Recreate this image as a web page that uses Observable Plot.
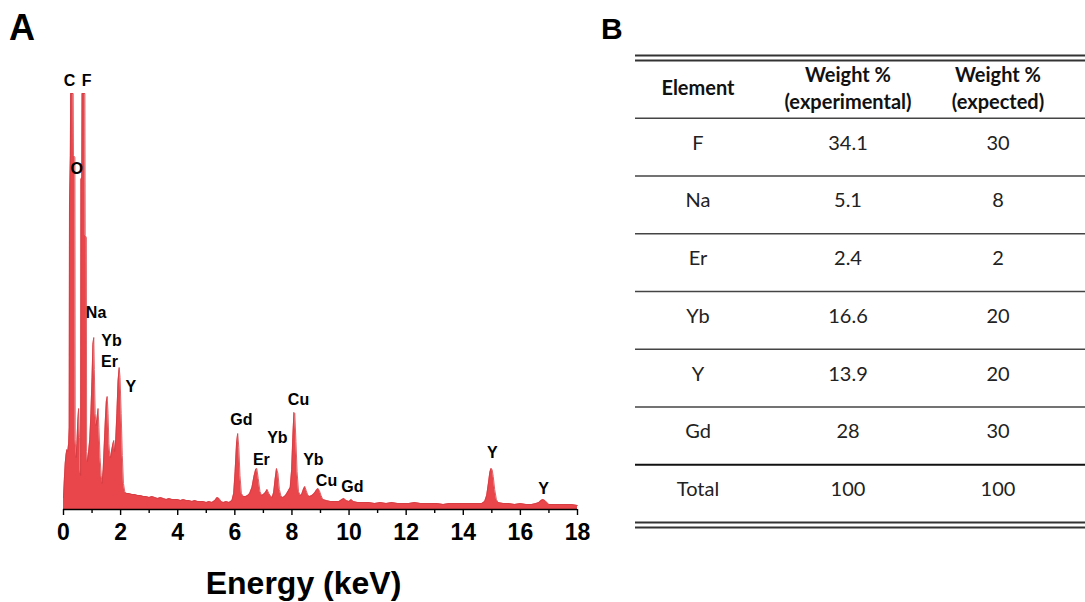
<!DOCTYPE html>
<html>
<head>
<meta charset="utf-8">
<script src="https://cdn.jsdelivr.net/npm/d3@7"></script>
<script src="https://cdn.jsdelivr.net/npm/@observablehq/plot@0.6"></script>
<style>
  html, body { margin: 0; padding: 0; background: #fff; }
  #figure { position: relative; width: 1085px; height: 602px; overflow: hidden; }
  #figure svg { overflow: visible; }
  .panel { position: absolute; }
  .letter { position: absolute; font-family: "Liberation Sans", Arial, sans-serif; font-weight: bold; line-height: 1; color: #000; }
</style>
</head>
<body>
<div id="figure">
  <div class="panel" id="spectrum" style="left:0;top:0"></div>
  <div class="panel" id="table" style="left:600px;top:0"></div>
  <div class="letter" style="left:9px;top:10px;font-size:36px">A</div>
  <div class="letter" style="left:601px;top:14px;font-size:30px">B</div>
</div>
<script>
// EDS spectrum: energy (keV) and detector counts (a.u.)
const energyKeV = [
  0.00, 0.03, 0.06, 0.09, 0.12, 0.15, 0.18, 0.20, 0.21, 0.24, 0.25, 0.34, 0.35, 0.40, 0.41, 0.44,
  0.47, 0.50, 0.53, 0.56, 0.58, 0.60, 0.61, 0.64, 0.65, 0.75, 0.76, 0.80, 0.81, 0.84, 0.88, 0.92,
  0.96, 1.00, 1.03, 1.06, 1.08, 1.11, 1.14, 1.17, 1.21, 1.24, 1.28, 1.32, 1.35, 1.39, 1.43, 1.47,
  1.50, 1.53, 1.56, 1.59, 1.62, 1.65, 1.68, 1.72, 1.76, 1.79, 1.83, 1.87, 1.91, 1.95, 1.98, 2.02,
  2.06, 2.10, 2.15, 2.22, 2.30, 2.40, 2.50, 2.60, 2.70, 2.80, 2.90, 3.00, 3.10, 3.20, 3.30, 3.40,
  3.50, 3.60, 3.70, 3.80, 3.90, 4.00, 4.10, 4.20, 4.30, 4.40, 4.50, 4.60, 4.70, 4.80, 4.90, 5.00,
  5.10, 5.20, 5.30, 5.38, 5.45, 5.52, 5.60, 5.70, 5.80, 5.90, 5.96, 6.01, 6.06, 6.10, 6.14, 6.18,
  6.23, 6.30, 6.38, 6.45, 6.52, 6.60, 6.67, 6.73, 6.77, 6.82, 6.88, 6.94, 7.00, 7.07, 7.13, 7.19,
  7.26, 7.31, 7.36, 7.41, 7.46, 7.51, 7.56, 7.62, 7.68, 7.74, 7.80, 7.88, 7.94, 7.99, 8.03, 8.07,
  8.10, 8.14, 8.18, 8.23, 8.29, 8.34, 8.40, 8.45, 8.50, 8.56, 8.62, 8.70, 8.78, 8.85, 8.91, 8.96,
  9.02, 9.08, 9.20, 9.35, 9.50, 9.65, 9.75, 9.82, 9.90, 10.00, 10.08, 10.15, 10.30, 10.50, 10.70, 10.90,
  11.10, 11.30, 11.50, 11.70, 11.90, 12.10, 12.30, 12.50, 12.70, 12.90, 13.10, 13.30, 13.50, 13.70, 13.90, 14.10,
  14.30, 14.50, 14.65, 14.75, 14.82, 14.88, 14.93, 14.97, 15.01, 15.05, 15.10, 15.16, 15.22, 15.40, 15.60, 15.80,
  16.00, 16.20, 16.40, 16.55, 16.65, 16.72, 16.79, 16.86, 16.93, 17.00, 17.20, 17.40, 17.60, 17.80, 18.00
];
const counts = [
  12, 30, 46, 55, 60, 58, 66, 82, 305, 354, 416, 416, 354, 352, 70, 52,
  66, 88, 101, 72, 40, 34, 330, 332, 416, 416, 274, 272, 58, 48, 58, 70,
  96, 132, 165, 172, 140, 96, 84, 90, 101, 82, 52, 34, 26, 40, 66, 92,
  108, 113, 96, 66, 54, 52, 58, 64, 69, 58, 70, 96, 128, 142, 132, 96,
  54, 26, 17, 16, 16, 15, 15, 14, 14, 13, 13, 12, 13, 12, 11, 12,
  11, 10, 11, 10, 10, 10, 9, 10, 9, 9, 8, 9, 8, 8, 8, 7,
  8, 7, 9, 12, 11, 8, 7, 8, 7, 9, 16, 38, 66, 76, 62, 34,
  16, 13, 13, 14, 16, 22, 33, 40, 41, 31, 18, 14, 15, 17, 20, 16,
  13, 12, 17, 30, 41, 36, 20, 13, 12, 13, 15, 19, 22, 40, 72, 97,
  96, 68, 38, 18, 14, 15, 20, 23, 19, 14, 13, 14, 16, 19, 21, 19,
  14, 10, 9, 8, 8, 8, 10, 11, 9, 8, 10, 8, 7, 7, 7, 6,
  7, 6, 7, 6, 6, 6, 7, 6, 6, 6, 6, 5, 6, 6, 6, 6,
  6, 6, 6, 8, 14, 26, 37, 41, 40, 33, 20, 10, 7, 6, 6, 5,
  6, 5, 5, 6, 7, 9, 10, 9, 7, 5, 5, 5, 5, 5, 4
];

// Element labels over the emission lines (label position in keV / counts)
const peakLabels  = ["C", "F", "O", "Na", "Yb", "Er", "Y", "Gd", "Er", "Yb", "Cu", "Yb", "Cu", "Gd", "Y", "Y"];
const peakLabelE  = [0.21, 0.81, 0.46, 1.14, 1.68, 1.61, 2.36, 6.23, 6.93, 7.49, 8.23, 8.75, 9.21, 10.12, 15.02, 16.81];
const peakLabelY  = [429, 429, 341, 197, 169, 148, 123, 90, 50, 72, 110, 50, 29, 23, 57, 21];

const majorTicks = [0, 2, 4, 6, 8, 10, 12, 14, 16, 18];
const minorTicks = [1, 3, 5, 7, 9, 11, 13, 15, 17];

// Composition table
const columnHeads   = ["Element", "Weight %\n(experimental)", "Weight %\n(expected)"];
const elements      = ["F", "Na", "Er", "Yb", "Y", "Gd", "Total"];
const experimental  = ["34.1", "5.1", "2.4", "16.6", "13.9", "28", "100"];
const expected      = ["30", "8", "2", "20", "20", "30", "100"];

const spectrum = energyKeV.map((e, i) => ({energy: e, counts: counts[i]}));
const labels = peakLabels.map((t, i) => ({label: t, energy: peakLabelE[i], counts: peakLabelY[i]}));

const red = "#e8464b";

const chartA = Plot.plot({
  width: 600,
  height: 602,
  marginLeft: 63,
  marginRight: 23,
  marginTop: 89,
  marginBottom: 93,
  style: {fontFamily: "'Liberation Sans', Arial, sans-serif", color: "#000", background: "transparent"},
  x: {domain: [0, 18]},
  y: {domain: [0, 420], axis: null},
  marks: [
    Plot.areaY(spectrum, {x: "energy", y: "counts", fill: red}),
    Plot.lineY(spectrum, {x: "energy", y: "counts", stroke: "#d23c42", strokeWidth: 0.8}),
    Plot.ruleY([0], {stroke: "#000", strokeWidth: 1.6}),
    Plot.axisX(minorTicks, {tickSize: 4, tickFormat: () => "", strokeWidth: 1.4, label: null}),
    Plot.axisX(majorTicks, {tickSize: 6, tickPadding: 8, strokeWidth: 1.4, fontSize: 23, fontWeight: "bold", tickFormat: d => d, label: null}),
    Plot.text(labels, {x: "energy", y: "counts", text: "label", fontSize: 16, fontWeight: "bold", fill: "#000"}),
    Plot.text(["Energy (keV)"], {frameAnchor: "bottom", dx: -17, dy: 84, lineAnchor: "bottom", fontSize: 32, fontWeight: "bold", fill: "#000"})
  ]
});
document.getElementById("spectrum").append(chartA);

// Table cells: header row at index 0, data rows below
const cells = [];
columnHeads.forEach((h, c) => cells.push({col: columnHeads[c], row: 0.5, text: h, head: true}));
elements.forEach((el, i) => {
  cells.push({col: columnHeads[0], row: i + 1.5, text: el});
  cells.push({col: columnHeads[1], row: i + 1.5, text: experimental[i]});
  cells.push({col: columnHeads[2], row: i + 1.5, text: expected[i]});
});
const nRows = elements.length + 1;
const innerLines = d3.range(1, nRows - 1);

const chartB = Plot.plot({
  width: 485,
  height: 545,
  marginLeft: 35,
  marginRight: 0,
  marginTop: 60,
  marginBottom: 23,
  style: {fontFamily: "Lato, 'Open Sans', sans-serif", color: "#111", background: "transparent"},
  x: {type: "band", domain: columnHeads, range: [14, 480], axis: null},
  y: {domain: [0, nRows], reverse: true, axis: null},
  marks: [
    Plot.ruleY([0], {dy: -5, stroke: "#333", strokeWidth: 2.2}),
    Plot.ruleY([0, nRows], {stroke: "#333", strokeWidth: 2.2}),
    Plot.ruleY([nRows], {dy: 5, stroke: "#333", strokeWidth: 2.2}),
    Plot.ruleY(innerLines, {stroke: "#444", strokeWidth: 1.4}),
    Plot.ruleY([nRows - 1], {stroke: "#111", strokeWidth: 2}),
    Plot.text(cells.filter(d => d.head), {x: "col", y: "row", text: "text", dy: -3, fontSize: 20, fontWeight: "bold", lineHeight: 1.35, fill: "#111"}),
    Plot.text(cells.filter(d => !d.head), {x: "col", y: "row", text: "text", dy: -4, fontSize: 20, fill: "#222"})
  ]
});
document.getElementById("table").append(chartB);
</script>
</body>
</html>
